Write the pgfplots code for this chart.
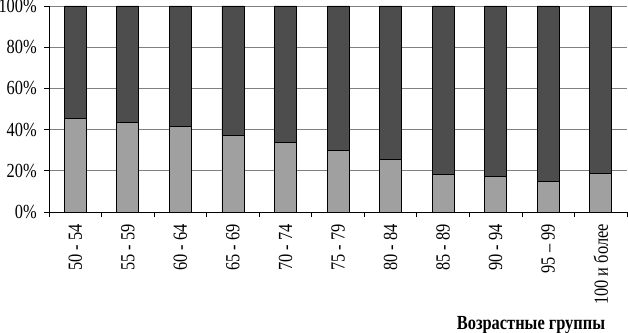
\documentclass[border=0pt]{standalone}
\usepackage{pgfplots}
\pgfplotsset{compat=1.18}
\usepackage{fontspec}
\setmainfont{Liberation Serif}[FakeStretch=0.82]
\definecolor{lightbar}{RGB}{160,160,160}
\definecolor{darkbar}{RGB}{77,77,77}
\begin{document}
\fontsize{20bp}{24bp}\selectfont
\begin{tikzpicture}
\useasboundingbox (0,0) rectangle (628bp,333bp);
\begin{axis}[
  at={(49bp,121bp)}, anchor=south west,
  scale only axis, width=578bp, height=206bp,
  ybar stacked, bar width=22bp,
  xmin=-0.5, xmax=10.5, ymin=0, ymax=100,
  axis lines*=left,
  axis line style={black, line width=0.8bp},
  ytick={0,20,40,60,80,100},
  yticklabels={0\%,20\%,40\%,60\%,80\%,100\%},
  ymajorgrids, grid style={gray, line width=0.8bp},
  xtick={-0.5,0.5,...,10.5}, xticklabels={},
  extra x ticks={0,1,2,3,4,5,6,7,8,9,10},
  extra x tick labels={50 - 54,55 - 59,60 - 64,65 - 69,70 - 74,75 - 79,80 - 84,85 - 89,90 - 94,95 – 99,100 и более},
  extra x tick style={major tick length=0pt},
  tick align=outside, major tick length=5bp,
  tick style={black, line width=0.8bp},
  xticklabel style={yshift=-12bp, rotate=90, anchor=east, inner sep=0pt},
  yticklabel style={anchor=east, inner sep=0pt, xshift=-7bp},
  tick label style={font=\fontsize{20bp}{24bp}\selectfont},
  clip=false,
]
\addplot[fill=lightbar, draw=black, line width=0.8bp] coordinates {
 (0,45.5) (1,43.4) (2,41.4) (3,37.0) (4,33.6) (5,29.9) (6,25.4) (7,18.4) (8,17.1) (9,15.0) (10,18.9)};
\addplot[fill=darkbar, draw=black, line width=0.8bp] coordinates {
 (0,54.5) (1,56.6) (2,58.6) (3,63.0) (4,66.4) (5,70.1) (6,74.6) (7,81.6) (8,82.9) (9,85.0) (10,81.1)};
\end{axis}
\node[anchor=base east, font=\bfseries] at (612bp,3.5bp) {Возрастные группы};
\end{tikzpicture}
\end{document}
